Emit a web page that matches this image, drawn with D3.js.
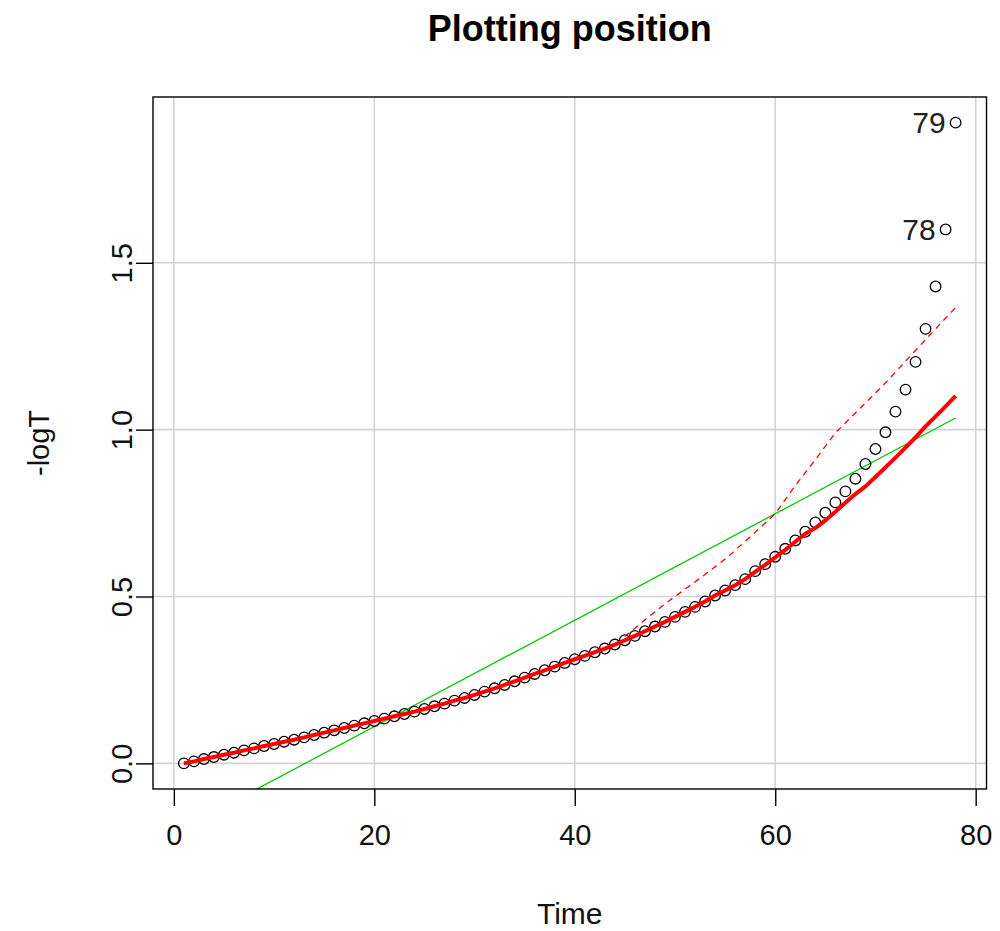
<!DOCTYPE html>
<html>
<head>
<meta charset="utf-8">
<script src="https://cdn.jsdelivr.net/npm/d3@7"></script>
<style>
  html, body { margin: 0; padding: 0; background: #fff; }
  svg { display: block; font-family: "Liberation Sans", Arial, sans-serif; }
</style>
</head>
<body>
<svg id="chart" width="1000" height="931"></svg>
<script>
// ---------- data ----------
const times = [1,2,3,4,5,6,7,8,9,10,11,12,13,14,15,16,17,18,19,20,
  21,22,23,24,25,26,27,28,29,30,31,32,33,34,35,36,37,38,39,40,
  41,42,43,44,45,46,47,48,49,50,51,52,53,54,55,56,57,58,59,60,
  61,62,63,64,65,66,67,68,69,70,71,72,73,74,75,76,77,78];

const negLogT = [0.000,0.006,0.013,0.019,0.026,0.032,0.039,0.045,0.052,0.058,
  0.065,0.071,0.078,0.085,0.092,0.099,0.106,0.113,0.120,0.127,
  0.134,0.141,0.148,0.155,0.163,0.171,0.179,0.188,0.196,0.205,
  0.215,0.225,0.235,0.246,0.257,0.268,0.279,0.290,0.301,0.312,
  0.322,0.333,0.344,0.356,0.369,0.382,0.396,0.410,0.424,0.439,
  0.454,0.469,0.485,0.503,0.518,0.534,0.552,0.576,0.597,0.619,
  0.643,0.668,0.694,0.722,0.751,0.782,0.815,0.853,0.897,0.942,
  0.992,1.054,1.120,1.203,1.302,1.429,1.600,1.920];

// labels shown next to the last two points
const pointLabels = ["78", "79"];

// thick red fitted curve
const fitY = [0.000,0.006,0.013,0.019,0.026,0.032,0.039,0.045,0.052,0.058,
  0.065,0.071,0.078,0.085,0.092,0.099,0.106,0.113,0.120,0.127,
  0.134,0.141,0.148,0.155,0.163,0.171,0.179,0.188,0.196,0.205,
  0.215,0.225,0.235,0.246,0.257,0.268,0.279,0.290,0.301,0.312,
  0.322,0.333,0.344,0.356,0.369,0.382,0.396,0.410,0.424,0.439,
  0.454,0.469,0.485,0.503,0.518,0.534,0.552,0.574,0.595,0.617,
  0.640,0.664,0.688,0.705,0.728,0.754,0.781,0.807,0.830,0.858,
  0.887,0.916,0.946,0.977,1.010,1.040,1.070,1.101];

// dashed red curve
const dashX = [45,47,49,51,53,55,57,59,60,61,62,64,66,67,69,71,73,75,78];
const dashY = [0.380,0.430,0.478,0.522,0.566,0.612,0.665,0.720,0.748,0.790,0.832,0.910,0.990,1.020,1.080,1.140,1.205,1.270,1.366];

// green straight line
const lineX = [1, 78];
const lineY = [-0.193, 1.035];

const xTicks = [0, 20, 40, 60, 80];
const yTicks = [0.0, 0.5, 1.0, 1.5];

// ---------- layout ----------
const svg = d3.select("#chart");
const box = { left: 153, right: 986.5, top: 97, bottom: 789 };

const xMin = d3.min(times), xMax = d3.max(times);
const yMin = d3.min(negLogT), yMax = d3.max(negLogT);
const xPad = (xMax - xMin) * 0.04, yPad = (yMax - yMin) * 0.04;

const x = d3.scaleLinear().domain([xMin - xPad, xMax + xPad]).range([box.left, box.right]);
const y = d3.scaleLinear().domain([yMin - yPad, yMax + yPad]).range([box.bottom, box.top]);

svg.append("defs").append("clipPath").attr("id", "clip")
  .append("rect").attr("x", box.left).attr("y", box.top)
  .attr("width", box.right - box.left).attr("height", box.bottom - box.top);

// grid
const grid = svg.append("g");
grid.selectAll("line.gx").data(xTicks).join("line")
  .attr("x1", d => x(d)).attr("x2", d => x(d))
  .attr("y1", box.top).attr("y2", box.bottom)
  .attr("stroke", "#d3d3d3").attr("stroke-width", 1.6);
grid.selectAll("line.gy").data(yTicks).join("line")
  .attr("y1", d => y(d)).attr("y2", d => y(d))
  .attr("x1", box.left).attr("x2", box.right)
  .attr("stroke", "#d3d3d3").attr("stroke-width", 1.6);

const plot = svg.append("g").attr("clip-path", "url(#clip)");

// green line
plot.append("path")
  .datum(lineX.map((d, i) => [d, lineY[i]]))
  .attr("d", d3.line().x(d => x(d[0])).y(d => y(d[1])))
  .attr("fill", "none").attr("stroke", "#00cc00").attr("stroke-width", 1.3);

// points
plot.selectAll("circle").data(times).join("circle")
  .attr("cx", d => x(d)).attr("cy", (d, i) => y(negLogT[i]))
  .attr("r", 5.3).attr("fill", "none").attr("stroke", "#000").attr("stroke-width", 1.3);

// dashed red
plot.append("path")
  .datum(dashX.map((d, i) => [d, dashY[i]]))
  .attr("d", d3.line().x(d => x(d[0])).y(d => y(d[1])))
  .attr("fill", "none").attr("stroke", "#ff0000").attr("stroke-width", 1.3)
  .attr("stroke-dasharray", "6,5");

// thick red
plot.append("path")
  .datum(times.map((d, i) => [d, fitY[i]]))
  .attr("d", d3.line().x(d => x(d[0])).y(d => y(d[1])))
  .attr("fill", "none").attr("stroke", "#ff0000").attr("stroke-width", 4)
  .attr("stroke-linejoin", "round");

// point labels for last two points
const n = times.length;
pointLabels.forEach((lab, k) => {
  const i = n - pointLabels.length + k;
  svg.append("text")
    .attr("x", x(times[i]) - 10).attr("y", y(negLogT[i]))
    .attr("dy", "0.36em").attr("text-anchor", "end")
    .attr("font-size", 30).attr("fill", "#222").text(lab);
});

// box
svg.append("rect").attr("x", box.left).attr("y", box.top)
  .attr("width", box.right - box.left).attr("height", box.bottom - box.top)
  .attr("fill", "none").attr("stroke", "#000").attr("stroke-width", 1.4);

// axes
const xAxis = d3.axisBottom(x).tickValues(xTicks).tickSize(17).tickPadding(18).tickFormat(d3.format("d"));
const gx = svg.append("g").attr("transform", `translate(0,${box.bottom})`).call(xAxis);
gx.select(".domain").remove();
gx.selectAll("line").attr("stroke", "#000").attr("stroke-width", 1.4);
gx.selectAll("text").attr("font-size", 29).attr("fill", "#111").attr("font-family", "Liberation Sans, Arial, sans-serif");

const yAxis = d3.axisLeft(y).tickValues(yTicks).tickSize(17).tickFormat(d3.format(".1f"));
const gy = svg.append("g").attr("transform", `translate(${box.left},0)`).call(yAxis);
gy.select(".domain").remove();
gy.selectAll("line").attr("stroke", "#000").attr("stroke-width", 1.4);
gy.selectAll("text")
  .attr("font-size", 29).attr("fill", "#111").attr("font-family", "Liberation Sans, Arial, sans-serif")
  .attr("x", null).attr("dy", null)
  .attr("text-anchor", "middle")
  .attr("transform", d => `translate(-21,0) rotate(-90)`)
  .attr("dy", "0em");

// titles
svg.append("text").attr("x", (box.left + box.right) / 2).attr("y", 41)
  .attr("text-anchor", "middle").attr("font-weight", "bold").attr("font-size", 36)
  .attr("fill", "#000").text("Plotting position");

svg.append("text").attr("x", (box.left + box.right) / 2).attr("y", 924)
  .attr("text-anchor", "middle").attr("font-size", 30).attr("fill", "#111").text("Time");

svg.append("text").attr("transform", `translate(49,${(box.top + box.bottom) / 2}) rotate(-90)`)
  .attr("text-anchor", "middle").attr("font-size", 29).attr("fill", "#111").text("-logT");
</script>
</body>
</html>
